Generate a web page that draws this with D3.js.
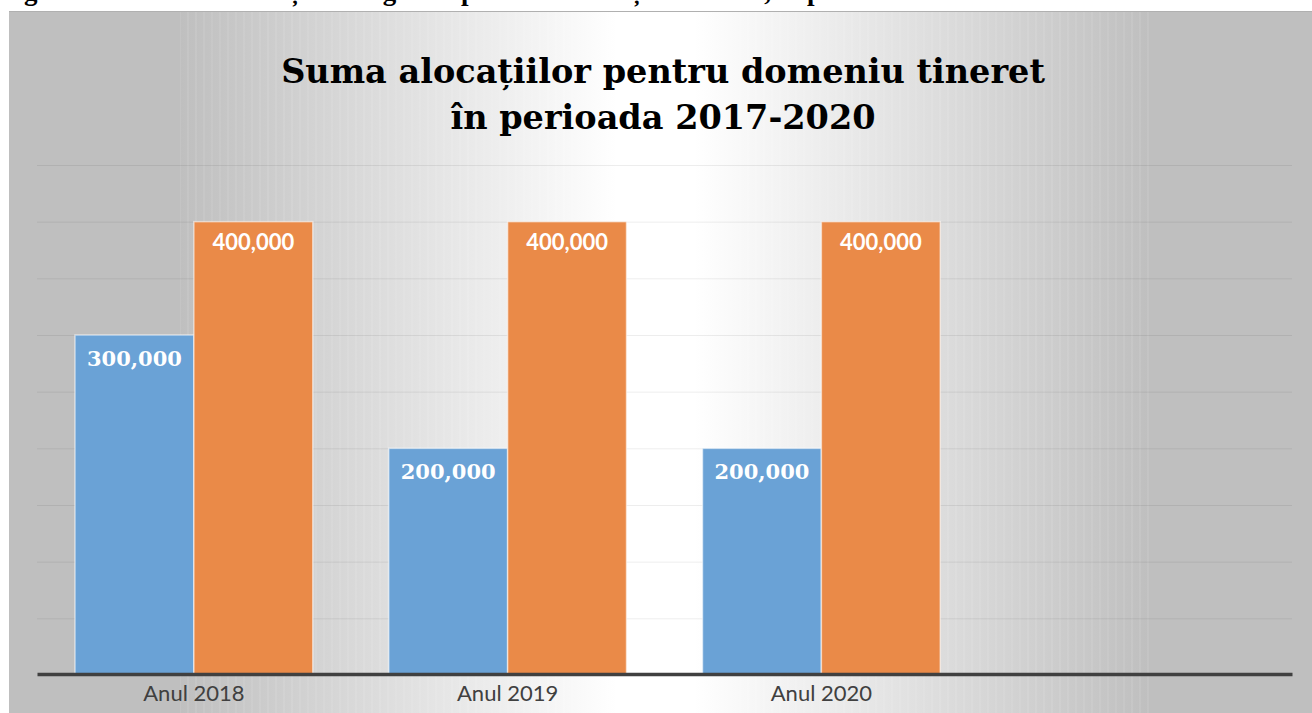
<!DOCTYPE html>
<html>
<head>
<meta charset="utf-8">
<script src="https://cdn.jsdelivr.net/npm/d3@7"></script>
<style>
  html, body { margin: 0; padding: 0; background: #fff; }
  svg { display: block; }
</style>
</head>
<body>
<div id="app"></div>
<script>
"use strict";

// chart data
const categories = ["Anul 2018", "Anul 2019", "Anul 2020", ""];
const seriesNames = ["alocat", "planificat"];
const seriesAlocat = [300000, 200000, 200000];
const seriesPlanificat = [400000, 400000, 400000];
const gridTicks = [50000, 100000, 150000, 200000, 250000, 300000, 350000, 400000, 450000];
const titleLines = ["Suma alocațiilor pentru domeniu tineret", "în perioada 2017-2020"];
const captionText = "Figura 1. Dinamica alocațiilor bugetare pentru activități de tineret, în perioada 2017-2020";

const W = 1312, H = 713;
const plot = { left: 37, right: 1292, top: 165, bottom: 675 };

const svg = d3.select("#app").append("svg")
    .attr("width", W)
    .attr("height", H);

const defs = svg.append("defs");

// background gradient: grey edges, white middle
const grad = defs.append("linearGradient")
    .attr("id", "bg")
    .attr("gradientUnits", "userSpaceOnUse")
    .attr("x1", 180).attr("y1", 0).attr("x2", 1150).attr("y2", 0);
grad.append("stop").attr("offset", "0%").attr("stop-color", "#bfbfbf");
grad.append("stop").attr("offset", "45%").attr("stop-color", "#ffffff");
grad.append("stop").attr("offset", "53%").attr("stop-color", "#ffffff");
grad.append("stop").attr("offset", "100%").attr("stop-color", "#bfbfbf");

const stripes = defs.append("pattern")
    .attr("id", "stripes")
    .attr("patternUnits", "userSpaceOnUse")
    .attr("width", 8).attr("height", 40);
stripes.append("line")
    .attr("x1", 4).attr("y1", 0).attr("x2", 4).attr("y2", 40)
    .attr("stroke", "#ffffff").attr("stroke-width", 1).attr("opacity", 0.15);

// caption line of the document, cut off above the chart
svg.append("text")
    .attr("x", 0)
    .attr("y", 0)
    .attr("font-family", "Liberation Serif")
    .attr("font-weight", "bold")
    .attr("font-size", 27)
    .attr("fill", "#000")
    .text(captionText);

svg.append("rect")
    .attr("x", 9).attr("y", 11)
    .attr("width", W - 9).attr("height", H - 11)
    .attr("fill", "url(#bg)");
svg.append("rect")
    .attr("x", 180).attr("y", 11)
    .attr("width", 970).attr("height", H - 11)
    .attr("fill", "url(#stripes)");
svg.append("line")
    .attr("x1", 9).attr("x2", W).attr("y1", 11.5).attr("y2", 11.5)
    .attr("stroke", "#b0b0b0").attr("stroke-width", 1);

// scales
const x = d3.scaleBand()
    .domain(categories)
    .range([plot.left, plot.right]);
const xs = d3.scaleBand()
    .domain(seriesNames)
    .range([38, x.bandwidth() - 38]);
const y = d3.scaleLinear()
    .domain([0, 450000])
    .range([plot.bottom, plot.top]);

// gridlines
svg.append("g")
    .attr("transform", `translate(${plot.left},0)`)
    .call(d3.axisLeft(y).tickValues(gridTicks).tickSize(-(plot.right - plot.left)).tickFormat(""))
    .call(g => g.select(".domain").remove())
    .call(g => g.selectAll(".tick line").attr("stroke", "rgba(0,0,0,0.07)").attr("stroke-width", 1));

// title
svg.append("text")
    .attr("x", 661)
    .attr("y", 83)
    .attr("text-anchor", "middle")
    .attr("font-family", "DejaVu Serif")
    .attr("font-weight", "bold")
    .attr("font-size", 33.5)
    .attr("fill", "#000")
    .selectAll("tspan")
    .data(titleLines)
    .join("tspan")
    .attr("x", 663)
    .attr("dy", (d, i) => i === 0 ? 0 : 46)
    .text(d => d);

// bars
const rows = categories.slice(0, seriesAlocat.length).map((c, i) => ({
    cat: c,
    values: [
        { key: "alocat", value: seriesAlocat[i] },
        { key: "planificat", value: seriesPlanificat[i] }
    ]
}));
const colors = { alocat: "#6aa2d6", planificat: "#ea8a48" };

const groups = svg.append("g").selectAll("g")
    .data(rows)
    .join("g")
    .attr("transform", d => `translate(${x(d.cat)},0)`);

groups.selectAll("rect")
    .data(d => d.values)
    .join("rect")
    .attr("x", d => xs(d.key))
    .attr("y", d => y(d.value))
    .attr("width", xs.bandwidth())
    .attr("height", d => y(0) - y(d.value))
    .attr("fill", d => colors[d.key])
    .attr("stroke", "rgba(255,255,255,0.55)")
    .attr("stroke-width", 1.5);

// data labels (serif on blue, sans on orange, as in the original)
const fmt = d3.format(",");
groups.selectAll("text.lbl")
    .data(d => d.values)
    .join("text")
    .attr("class", "lbl")
    .attr("x", d => xs(d.key) + xs.bandwidth() / 2)
    .attr("y", d => y(d.value) + (d.key === "alocat" ? 31 : 28))
    .attr("text-anchor", "middle")
    .attr("fill", "#fff")
    .attr("font-weight", "bold")
    .attr("font-family", d => d.key === "alocat" ? "DejaVu Serif" : "Lato")
    .attr("font-size", d => d.key === "alocat" ? 21 : 22)
    .text(d => fmt(d.value));

// x axis
svg.append("g")
    .attr("transform", `translate(0,${plot.bottom - 1})`)
    .call(d3.axisBottom(x).tickSize(0).tickPadding(11))
    .call(g => g.select(".domain").attr("stroke", "#404040").attr("stroke-width", 3.5))
    .call(g => g.selectAll(".tick text")
        .attr("fill", "#404040")
        .attr("font-family", "Lato, sans-serif")
        .attr("font-size", 22));
</script>
</body>
</html>
